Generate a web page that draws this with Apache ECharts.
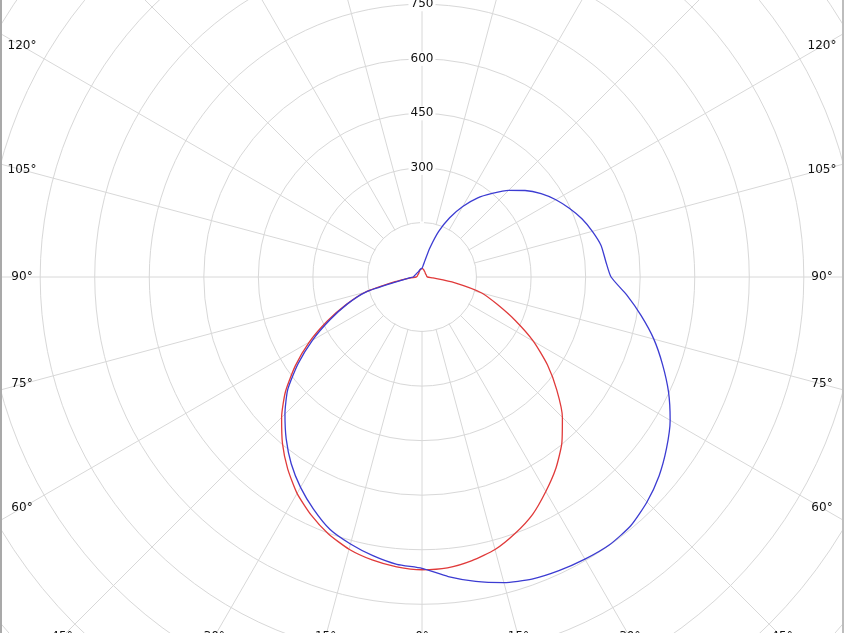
<!DOCTYPE html>
<html>
<head>
<meta charset="utf-8">
<script src="https://cdn.jsdelivr.net/npm/echarts@6/dist/echarts.min.js"></script>
<style>
html,body{margin:0;padding:0;background:#fff;}
#chart{width:844px;height:633px;}
</style>
</head>
<body>
<div id="chart"></div>
<script>
// gamma angles (degrees from nadir)
const gammas = [0,5,10,15,20,25,30,35,40,45,50,55,60,65,70,75,80,85,90,95,100,105,110,115,120,125,130,135,140,145,150,155,160,165,170,175,180];
// red curve (C0-C180 plane)
const redRight = [805,803,792,776,750,720,681,642,598,546,484,421,354,283,220,170,90,30,15,14,13,13,13,13,13,13,13,13,14,15,16,17,18,20,21,23,24];
const redLeft  = [805,800,790,775,752,722,687,644,597,546,490,425,358,288,222,162,75,34,16,14,13,13,13,13,13,13,13,13,14,15,16,17,18,20,21,23,24];
// blue curve (C90-C270 plane)
const blueRight = [801,827,850,870,884,891,896,899,893,875,851,821,788,748,704,660,612,565,520,507,500,485,468,447,425,400,370,337,300,265,224,180,133,82,45,30,24];
const blueLeft  = [801,793,778,760,739,705,668,627,581,533,482,416,348,280,220,160,65,37,24,22,21,20,19,18.5,18,17.5,17.5,17.5,17.5,18,18,19,20,21,22,23,24];
// tick labels
const radialLabels = [300,450,600,750];
const sideAngleLabels = [60,75,90,105,120];
const bottomAngleLabels = [0,15,30,45];

const CX = 422, CY = 277, MAXR = 1650, RPX = 600;
const FONT = '12px "DejaVu Sans"';

function loop(right, left) {
  const pts = [];
  // right half: top (v=0) -> bottom (v=180)
  for (let i = gammas.length - 1; i >= 0; i--) pts.push([right[i], 180 - gammas[i]]);
  // left half: bottom (v=180) -> top (v=360)
  for (let i = 0; i < gammas.length; i++) pts.push([left[i], 180 + gammas[i]]);
  return pts;
}

const graphics = [];
sideAngleLabels.forEach(g => {
  const y = CY + 400 / Math.tan(g * Math.PI / 180);
  [22, 822].forEach(x => graphics.push({type:'text', silent:true, z:10, style:{text:g + '°', x:x, y:y, fill:'#111', font:FONT, textAlign:'center', textVerticalAlign:'middle'}}));
});
bottomAngleLabels.forEach(g => {
  const dx = 360 * Math.tan(g * Math.PI / 180);
  const xs = g === 0 ? [CX] : [CX - dx, CX + dx];
  xs.forEach(x => graphics.push({type:'text', silent:true, z:10, style:{text:g + '°', x:x, y:CY + 360, fill:'#111', font:FONT, textAlign:'center', textVerticalAlign:'middle'}}));
});
graphics.push({type:'rect', silent:true, z:10, shape:{x:0, y:0, width:2, height:633}, style:{fill:'#a9a9a9'}});
graphics.push({type:'rect', silent:true, z:10, shape:{x:842, y:0, width:2, height:633}, style:{fill:'#bdbdbd'}});

const chart = echarts.init(document.getElementById('chart'), null, {renderer:'canvas'});
chart.setOption({
  animation: false,
  backgroundColor: '#fff',
  polar: {center: [CX, CY], radius: RPX},
  angleAxis: {
    type: 'value', min: 0, max: 360, interval: 15, startAngle: 90, clockwise: true,
    axisLine: {show: false}, axisTick: {show: false}, axisLabel: {show: false},
    splitLine: {show: true, lineStyle: {color: '#d8d8d8', width: 1}},
    z: 0
  },
  radiusAxis: {
    type: 'value', min: 0, max: MAXR, interval: 150,
    axisLine: {show: false}, axisTick: {show: false},
    splitLine: {show: true, lineStyle: {color: '#d8d8d8', width: 1}},
    axisLabel: {
      formatter: v => radialLabels.indexOf(v) >= 0 ? String(v) : '',
      margin: 0, align: 'center', verticalAlign: 'middle',
      color: '#111', fontSize: 12, fontFamily: 'DejaVu Sans',
      backgroundColor: '#fff', padding: [1, 2]
    },
    z: 2
  },
  series: [
    {
      type: 'pie', center: [CX, CY], radius: [0, RPX * 150 / MAXR - 0.8],
      data: [{value: 1}], itemStyle: {color: '#fff'},
      label: {show: false}, labelLine: {show: false},
      silent: true, z: 1, emphasis: {disabled: true}
    },
    {
      type: 'line', coordinateSystem: 'polar', data: loop(redRight, redLeft),
      showSymbol: false, symbol: 'none', smooth: 0.2,
      lineStyle: {color: '#e03a3a', width: 1.3}, z: 3
    },
    {
      type: 'line', coordinateSystem: 'polar', data: loop(blueRight, blueLeft),
      showSymbol: false, symbol: 'none', smooth: 0.2,
      lineStyle: {color: '#3c3cd2', width: 1.3}, z: 4
    }
  ],
  graphic: graphics
});
</script>
</body>
</html>
